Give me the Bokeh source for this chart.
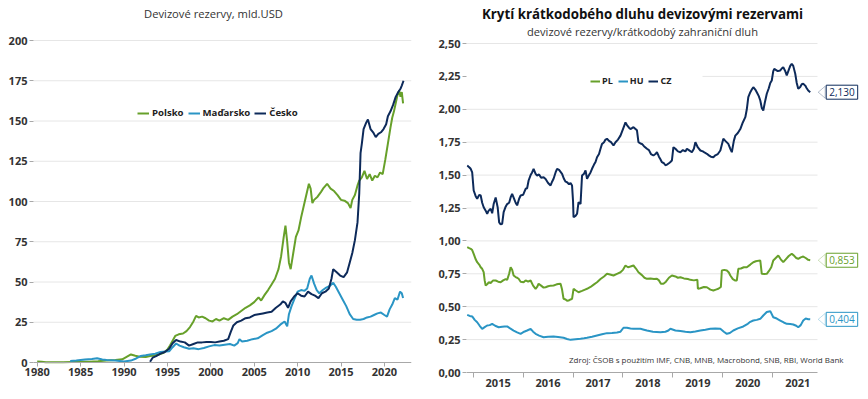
from bokeh.plotting import figure
from bokeh.layouts import row
from bokeh.models import (FixedTicker, CustomJSTickFormatter, Legend, LegendItem, Label,
                          PolyAnnotation)
from bokeh.embed import file_html
from bokeh.resources import INLINE

# ---------------- data: left chart (FX reserves, bn USD) ----------------
left_title = "Devizové rezervy, mld.USD"
left_xticks = [1980, 1985, 1990, 1995, 2000, 2005, 2010, 2015, 2020]
left_yticks = [0, 25, 50, 75, 100, 125, 150, 175, 200]

pl_years = [1980.0, 1980.5, 1981.0, 1982.0, 1983.0, 1984.0, 1985.0, 1986.0, 1987.0, 1988.0, 1989.0, 1989.8,
            1990.3, 1990.8, 1991.3, 1991.8, 1992.5, 1993.0, 1993.5, 1994.0, 1994.5, 1995.0, 1995.3, 1995.6,
            1995.9, 1996.3, 1996.8, 1997.2, 1997.6, 1998.0, 1998.3, 1998.6, 1999.0, 1999.4, 1999.8, 2000.2,
            2000.6, 2001.0, 2001.5, 2002.0, 2002.5, 2003.0, 2003.5, 2004.0, 2004.5, 2005.0, 2005.5, 2005.8,
            2006.2, 2006.6, 2007.0, 2007.4, 2007.8, 2008.1, 2008.4, 2008.6, 2008.8, 2009.0, 2009.2, 2009.5,
            2009.8, 2010.1, 2010.4, 2010.7, 2011.0, 2011.3, 2011.5, 2011.7, 2011.9, 2012.3, 2012.7, 2013.0,
            2013.4, 2013.8, 2014.2, 2014.6, 2015.0, 2015.4, 2015.8, 2016.1, 2016.3, 2016.6, 2016.9, 2017.1,
            2017.4, 2017.7, 2018.0, 2018.3, 2018.6, 2018.9, 2019.2, 2019.5, 2019.8, 2020.1, 2020.4, 2020.7,
            2020.9, 2021.1, 2021.3, 2021.5, 2021.7, 2021.85, 2022.0, 2022.15]
pl_vals = [0.7, 0.5, 0.1, 0.1, 0.2, 0.3, 0.4, 0.5, 0.8, 1.2, 1.6, 2.0,
           3.5, 5.0, 4.2, 3.6, 3.4, 4.0, 4.3, 5.0, 5.8, 8.0, 10.5, 13.5,
           16.5, 17.5, 18.0, 19.5, 22.0, 25.5, 29.0, 28.0, 28.5, 27.5, 26.0, 25.5,
           27.0, 26.0, 27.5, 26.5, 28.5, 30.0, 32.0, 34.0, 35.5, 37.5, 40.5, 38.5,
           42.0, 45.0, 48.5, 52.0, 58.0, 66.0, 78.0, 85.0, 75.0, 62.0, 58.0, 68.0,
           78.0, 82.0, 90.0, 97.0, 104.0, 111.0, 108.0, 99.0, 101.0, 103.0, 106.0, 108.5,
           111.0, 108.0, 106.5, 104.0, 101.0, 100.5, 99.0, 96.0, 101.0, 104.0, 110.0, 113.0,
           115.0, 119.0, 114.0, 117.0, 113.0, 116.0, 115.0, 118.0, 117.0, 126.0, 136.0, 146.0,
           152.0, 156.0, 161.0, 166.0, 169.0, 165.0, 168.0, 161.0]

hu_years = [1983.8, 1984.5, 1985.5, 1986.3, 1986.9, 1987.5, 1988.0, 1989.0, 1990.0, 1990.8, 1991.4, 1991.9,
            1992.5, 1993.0, 1993.6, 1994.2, 1994.8, 1995.2, 1995.6, 1996.0, 1996.4, 1996.9, 1997.5, 1998.0,
            1998.6, 1999.2, 1999.8, 2000.4, 2001.0, 2001.6, 2002.2, 2002.7, 2003.1, 2003.3, 2003.6, 2004.2,
            2004.8, 2005.4, 2006.0, 2006.5, 2007.0, 2007.5, 2008.0, 2008.5, 2008.8, 2009.0, 2009.3, 2009.6,
            2010.0, 2010.4, 2010.8, 2011.1, 2011.4, 2011.6, 2011.9, 2012.2, 2012.5, 2012.9, 2013.3, 2013.7,
            2014.1, 2014.4, 2014.8, 2015.2, 2015.6, 2016.0, 2016.4, 2016.8, 2017.2, 2017.6, 2018.0, 2018.4,
            2018.8, 2019.2, 2019.6, 2020.0, 2020.3, 2020.6, 2020.9, 2021.2, 2021.5, 2021.8, 2022.0, 2022.15]
hu_vals = [1.0, 1.3, 1.8, 2.2, 2.6, 1.9, 1.5, 1.2, 0.6, 1.2, 2.5, 4.0,
           4.5, 5.0, 5.5, 6.5, 6.8, 7.0, 9.5, 11.8, 10.5, 9.5, 8.5, 8.8,
           8.3, 9.0, 10.0, 10.8, 10.5, 11.0, 11.5, 10.5, 12.0, 14.5, 13.0, 13.5,
           14.5, 15.0, 17.0, 18.5, 19.5, 21.0, 23.5, 25.5, 22.5, 30.0, 35.0, 39.0,
           44.0, 45.0, 44.5, 46.0, 52.0, 54.0, 49.0, 45.0, 43.0, 45.0, 46.5, 47.5,
           49.5, 47.0, 43.0, 39.0, 35.0, 30.0, 27.0, 26.5, 26.5, 27.0, 28.0, 28.5,
           29.5, 30.5, 31.0, 29.5, 28.5, 33.0, 36.0, 40.0, 39.0, 44.0, 43.0, 40.0]

cz_years = [1993.0, 1993.3, 1993.7, 1994.2, 1994.7, 1995.2, 1995.6, 1996.0, 1996.5, 1997.0, 1997.5, 1998.0,
            1998.5, 1999.0, 1999.5, 2000.0, 2000.5, 2001.0, 2001.5, 2002.0, 2002.3, 2002.6, 2003.0, 2003.5,
            2004.0, 2004.5, 2005.0, 2005.5, 2006.0, 2006.5, 2007.0, 2007.5, 2008.0, 2008.3, 2008.6, 2008.9,
            2009.2, 2009.6, 2010.0, 2010.4, 2010.8, 2011.2, 2011.6, 2012.0, 2012.4, 2012.8, 2013.2, 2013.6,
            2013.9, 2014.1, 2014.5, 2014.9, 2015.3, 2015.7, 2016.0, 2016.3, 2016.6, 2016.9, 2017.1, 2017.25,
            2017.4, 2017.6, 2017.9, 2018.1, 2018.4, 2018.7, 2019.0, 2019.3, 2019.6, 2019.9, 2020.2, 2020.4,
            2020.7, 2021.0, 2021.3, 2021.6, 2021.85, 2022.0, 2022.2]
cz_vals = [0.5, 3.0, 4.0, 5.5, 6.5, 8.5, 12.0, 14.0, 13.0, 12.5, 10.5, 11.5,
           12.5, 12.5, 12.8, 12.8, 12.5, 13.0, 13.5, 14.5, 19.0, 23.0, 25.0, 26.0,
           27.5, 28.0, 29.5, 30.0, 30.5, 31.0, 31.5, 34.0, 36.0, 38.0, 37.0, 34.0,
           38.0, 41.0, 43.0, 41.5, 41.0, 44.0, 42.5, 41.5, 40.0, 43.0, 44.0, 46.0,
           52.0, 58.0, 56.0, 54.0, 53.0, 56.0, 62.0, 68.0, 76.0, 87.0, 105.0, 130.0,
           136.0, 145.0, 149.0, 151.0, 145.0, 143.0, 140.0, 142.0, 143.0, 145.0, 148.0, 153.0,
           156.0, 160.0, 165.0, 168.0, 170.0, 172.0, 175.0]

# ---------------- data: right chart (reserves / short-term debt) ----------------
right_title = "Krytí krátkodobého dluhu devizovými rezervami"
right_subtitle = "devizové rezervy/krátkodobý zahraniční dluh"
right_source = "Zdroj: ČSOB s použitím IMF, CNB, MNB, Macrobond, SNB, RBI, World Bank"
right_year_labels = [2015, 2016, 2017, 2018, 2019, 2020, 2021]
right_yticks = [0.0, 0.25, 0.5, 0.75, 1.0, 1.25, 1.5, 1.75, 2.0, 2.25, 2.5]

czr_years = [2014.88, 2014.92, 2014.95, 2014.98, 2015.01, 2015.05, 2015.08, 2015.12, 2015.15, 2015.18, 2015.21,
             2015.25, 2015.28, 2015.31, 2015.35, 2015.38, 2015.41, 2015.45, 2015.49, 2015.52, 2015.55, 2015.58,
             2015.61, 2015.65, 2015.68, 2015.72, 2015.75, 2015.78, 2015.82, 2015.85, 2015.88, 2015.92, 2015.95,
             2016.00, 2016.05, 2016.08, 2016.11, 2016.15, 2016.18, 2016.21, 2016.25, 2016.28, 2016.32, 2016.36,
             2016.41, 2016.45, 2016.50, 2016.55, 2016.58, 2016.61, 2016.65, 2016.68, 2016.72, 2016.75, 2016.78,
             2016.82, 2016.85, 2016.88, 2016.92, 2016.95, 2016.98, 2017.00, 2017.01, 2017.05, 2017.08, 2017.11,
             2017.15, 2017.18, 2017.22, 2017.25, 2017.28, 2017.32, 2017.35, 2017.38, 2017.42, 2017.45, 2017.48,
             2017.52, 2017.55, 2017.58, 2017.62, 2017.65, 2017.68, 2017.72, 2017.76, 2017.81, 2017.85, 2017.90,
             2017.95, 2018.00, 2018.05, 2018.08, 2018.12, 2018.15, 2018.21, 2018.28, 2018.31, 2018.35, 2018.38,
             2018.42, 2018.48, 2018.52, 2018.56, 2018.61, 2018.65, 2018.68, 2018.72, 2018.75, 2018.78, 2018.82,
             2018.85, 2018.88, 2018.92, 2018.95, 2018.98, 2019.01, 2019.05, 2019.10, 2019.15, 2019.20, 2019.25,
             2019.28, 2019.32, 2019.38, 2019.42, 2019.45, 2019.50, 2019.55, 2019.60, 2019.64, 2019.68, 2019.72,
             2019.76, 2019.81, 2019.85, 2019.90, 2019.95, 2020.01, 2020.05, 2020.11, 2020.15, 2020.18, 2020.22,
             2020.25, 2020.30, 2020.35, 2020.40, 2020.45, 2020.48, 2020.51, 2020.55, 2020.58, 2020.61, 2020.65,
             2020.68, 2020.72, 2020.75, 2020.78, 2020.81, 2020.84, 2020.88, 2020.92, 2020.95, 2020.98, 2021.01,
             2021.03, 2021.06, 2021.10, 2021.15, 2021.18, 2021.21, 2021.25, 2021.28, 2021.32, 2021.35, 2021.38,
             2021.41, 2021.45, 2021.48, 2021.51, 2021.55, 2021.58, 2021.61, 2021.65, 2021.68, 2021.71, 2021.75]
czr_vals = [1.573, 1.560, 1.548, 1.520, 1.383, 1.340, 1.320, 1.350, 1.345, 1.290, 1.256,
            1.230, 1.206, 1.230, 1.244, 1.210, 1.280, 1.330, 1.256, 1.140, 1.125, 1.130,
            1.218, 1.260, 1.280, 1.290, 1.330, 1.358, 1.320, 1.290, 1.270, 1.320, 1.345,
            1.350, 1.396, 1.400, 1.459, 1.500, 1.520, 1.548, 1.510, 1.497, 1.505, 1.480,
            1.484, 1.470, 1.440, 1.421, 1.450, 1.472, 1.520, 1.548, 1.540, 1.525, 1.510,
            1.470, 1.450, 1.446, 1.430, 1.440, 1.421, 1.300, 1.180, 1.190, 1.206, 1.294,
            1.280, 1.497, 1.510, 1.535, 1.472, 1.500, 1.520, 1.548, 1.580, 1.600, 1.636,
            1.660, 1.700, 1.737, 1.750, 1.770, 1.776, 1.760, 1.750, 1.725, 1.750, 1.770,
            1.800, 1.850, 1.900, 1.880, 1.860, 1.850, 1.864, 1.840, 1.750, 1.740, 1.737,
            1.720, 1.700, 1.690, 1.660, 1.649, 1.660, 1.674, 1.640, 1.620, 1.598, 1.590,
            1.575, 1.580, 1.590, 1.600, 1.611, 1.712, 1.700, 1.680, 1.674, 1.690, 1.680,
            1.700, 1.690, 1.674, 1.700, 1.750, 1.710, 1.687, 1.680, 1.670, 1.662, 1.650,
            1.640, 1.636, 1.650, 1.660, 1.687, 1.776, 1.760, 1.737, 1.700, 1.674, 1.760,
            1.800, 1.820, 1.850, 1.900, 1.940, 2.000, 2.092, 2.130, 2.150, 2.168, 2.150,
            2.130, 2.100, 2.067, 2.010, 1.990, 2.050, 2.118, 2.160, 2.200, 2.219, 2.290,
            2.307, 2.300, 2.290, 2.295, 2.310, 2.320, 2.290, 2.257, 2.300, 2.330, 2.346,
            2.330, 2.270, 2.200, 2.156, 2.170, 2.190, 2.194, 2.180, 2.160, 2.143, 2.130]

plr_years = [2014.88, 2014.92, 2014.95, 2014.98, 2015.01, 2015.05, 2015.08, 2015.12, 2015.15, 2015.18, 2015.21,
             2015.23, 2015.25, 2015.28, 2015.31, 2015.35, 2015.40, 2015.45, 2015.50, 2015.55, 2015.60, 2015.65,
             2015.68, 2015.72, 2015.75, 2015.78, 2015.81, 2015.85, 2015.88, 2015.91, 2015.95, 2016.01, 2016.05,
             2016.10, 2016.15, 2016.20, 2016.25, 2016.28, 2016.31, 2016.36, 2016.41, 2016.45, 2016.50, 2016.55,
             2016.61, 2016.66, 2016.70, 2016.75, 2016.78, 2016.81, 2016.85, 2016.88, 2016.91, 2016.95, 2016.98,
             2017.01, 2017.05, 2017.11, 2017.18, 2017.24, 2017.28, 2017.35, 2017.42, 2017.48, 2017.55, 2017.62,
             2017.68, 2017.74, 2017.81, 2017.88, 2017.95, 2018.00, 2018.05, 2018.10, 2018.15, 2018.21, 2018.26,
             2018.31, 2018.38, 2018.43, 2018.48, 2018.55, 2018.62, 2018.68, 2018.72, 2018.76, 2018.81, 2018.86,
             2018.92, 2018.98, 2019.05, 2019.10, 2019.15, 2019.22, 2019.30, 2019.35, 2019.42, 2019.49, 2019.50,
             2019.55, 2019.62, 2019.68, 2019.75, 2019.81, 2019.86, 2019.91, 2019.96, 2019.98, 2020.03, 2020.08,
             2020.12, 2020.15, 2020.20, 2020.25, 2020.28, 2020.31, 2020.36, 2020.42, 2020.48, 2020.55, 2020.61,
             2020.66, 2020.72, 2020.75, 2020.78, 2020.83, 2020.88, 2020.92, 2020.97, 2021.01, 2021.06, 2021.11,
             2021.16, 2021.21, 2021.26, 2021.32, 2021.38, 2021.42, 2021.47, 2021.51, 2021.56, 2021.61, 2021.66,
             2021.71, 2021.75]
plr_vals = [0.952, 0.945, 0.940, 0.930, 0.902, 0.860, 0.838, 0.820, 0.800, 0.788, 0.762,
            0.700, 0.661, 0.670, 0.686, 0.680, 0.700, 0.699, 0.690, 0.686, 0.700, 0.710,
            0.704, 0.750, 0.800, 0.780, 0.737, 0.725, 0.720, 0.712, 0.690, 0.686, 0.700,
            0.690, 0.699, 0.660, 0.636, 0.650, 0.674, 0.660, 0.645, 0.648, 0.655, 0.660,
            0.661, 0.668, 0.672, 0.674, 0.630, 0.560, 0.555, 0.545, 0.547, 0.555, 0.560,
            0.636, 0.625, 0.610, 0.620, 0.630, 0.636, 0.650, 0.670, 0.686, 0.710, 0.730,
            0.750, 0.745, 0.737, 0.750, 0.762, 0.780, 0.813, 0.800, 0.805, 0.813, 0.790,
            0.762, 0.740, 0.720, 0.712, 0.715, 0.710, 0.712, 0.700, 0.675, 0.674, 0.690,
            0.720, 0.737, 0.730, 0.720, 0.724, 0.715, 0.710, 0.704, 0.700, 0.704, 0.636,
            0.640, 0.650, 0.648, 0.630, 0.623, 0.630, 0.636, 0.650, 0.775, 0.780, 0.775,
            0.760, 0.737, 0.710, 0.699, 0.700, 0.788, 0.790, 0.800, 0.800, 0.820, 0.838,
            0.845, 0.850, 0.851, 0.750, 0.748, 0.750, 0.770, 0.800, 0.851, 0.870, 0.889,
            0.860, 0.838, 0.860, 0.885, 0.902, 0.890, 0.870, 0.864, 0.875, 0.881, 0.870,
            0.856, 0.853]

hur_years = [2014.88, 2014.93, 2014.98, 2015.03, 2015.08, 2015.13, 2015.18, 2015.23, 2015.28, 2015.33, 2015.38,
             2015.44, 2015.51, 2015.58, 2015.63, 2015.68, 2015.74, 2015.81, 2015.88, 2015.95, 2016.02, 2016.08,
             2016.15, 2016.20, 2016.25, 2016.32, 2016.41, 2016.50, 2016.61, 2016.70, 2016.81, 2016.88, 2016.95,
             2017.05, 2017.15, 2017.22, 2017.28, 2017.38, 2017.48, 2017.58, 2017.68, 2017.78, 2017.88, 2017.95,
             2018.01, 2018.08, 2018.15, 2018.21, 2018.35, 2018.42, 2018.48, 2018.60, 2018.75, 2018.85, 2018.91,
             2018.95, 2019.05, 2019.15, 2019.25, 2019.35, 2019.45, 2019.55, 2019.65, 2019.75, 2019.85, 2019.95,
             2020.02, 2020.08, 2020.14, 2020.21, 2020.30, 2020.41, 2020.50, 2020.55, 2020.61, 2020.68, 2020.75,
             2020.81, 2020.88, 2020.95, 2021.01, 2021.08, 2021.15, 2021.22, 2021.28, 2021.35, 2021.41, 2021.47,
             2021.51, 2021.56, 2021.61, 2021.66, 2021.71, 2021.75]
hur_vals = [0.438, 0.430, 0.426, 0.400, 0.382, 0.355, 0.332, 0.345, 0.357, 0.360, 0.370,
            0.355, 0.344, 0.348, 0.350, 0.350, 0.335, 0.319, 0.305, 0.294, 0.310, 0.319,
            0.332, 0.310, 0.294, 0.280, 0.268, 0.272, 0.274, 0.270, 0.264, 0.255, 0.248,
            0.252, 0.256, 0.260, 0.264, 0.272, 0.281, 0.290, 0.299, 0.300, 0.304, 0.310,
            0.340, 0.340, 0.335, 0.332, 0.332, 0.325, 0.319, 0.310, 0.306, 0.310, 0.319,
            0.332, 0.319, 0.315, 0.310, 0.306, 0.312, 0.319, 0.325, 0.332, 0.335, 0.332,
            0.310, 0.294, 0.300, 0.319, 0.335, 0.350, 0.370, 0.385, 0.395, 0.400, 0.408,
            0.433, 0.460, 0.466, 0.420, 0.410, 0.395, 0.380, 0.370, 0.368, 0.365, 0.355,
            0.344, 0.360, 0.395, 0.410, 0.405, 0.404]

# ---------------- styling ----------------
FONT = "Open Sans"
GREEN = "#67a02a"
LBLUE = "#2a95c5"
NAVY = "#0d2a5a"
GRID = "#e6e6e6"
TICKC = "#a8a8a8"
LABC = "#333333"
FIG_H = 399


def style_axes(p):
    p.outline_line_color = None
    p.xgrid.grid_line_color = None
    p.ygrid.grid_line_color = None
    for ax in p.yaxis:
        ax.axis_label = None
        ax.axis_line_color = None
        ax.major_tick_in = 0
        ax.major_tick_out = 4
        ax.major_tick_line_color = TICKC
        ax.minor_tick_line_color = None
        ax.major_label_standoff = 2
        ax.major_label_text_font = FONT
        ax.major_label_text_font_style = "bold"
        ax.major_label_text_font_size = "11px"
        ax.major_label_text_color = LABC
    for ax in p.xaxis:
        ax.axis_label = None
        ax.axis_line_color = TICKC
        ax.major_tick_in = 0
        ax.major_tick_line_color = TICKC
        ax.major_label_text_font = FONT
        ax.major_label_text_font_style = "bold"
        ax.major_label_text_font_size = "11px"
        ax.major_label_text_color = LABC
        ax.fixed_location = 0


# ---------------- left chart ----------------
# page coords: frame x 0..411 (axis from x=33), y 0..399 ; value 0 at y=362, 200 at y=40
L_PPU = 322 / 200.0          # px per unit (y)
L_PPY = 8.68                 # px per year (x)
ly_end = 200 + 40 / L_PPU
ly_start = -(FIG_H - 362) / L_PPU
lx_frame0 = 1980 - 36.7 / L_PPY
lx0, lx1 = 1979.57, 2023.12
left = figure(width=430, height=FIG_H, x_range=(lx_frame0, lx1), y_range=(ly_start, ly_end),
              output_backend="svg", toolbar_location=None, title=None,
              min_border_left=0, min_border_right=19, min_border_top=0, min_border_bottom=0)
style_axes(left)
left.yaxis.fixed_location = lx0
left.xaxis.ticker = FixedTicker(ticks=left_xticks)
left.yaxis.ticker = FixedTicker(ticks=left_yticks)
left.xaxis.bounds = (lx0, lx1)
left.xaxis.major_tick_out = 4
left.xaxis.major_label_standoff = 1

lgrid = [t for t in left_yticks if t > 0]
left.segment(x0=[lx0] * len(lgrid), x1=[lx1] * len(lgrid), y0=lgrid, y1=lgrid,
             line_color=GRID, line_width=1)

r_pl = left.line(pl_years, pl_vals, line_color=GREEN, line_width=2)
r_hu = left.line(hu_years, hu_vals, line_color=LBLUE, line_width=2)
r_cz = left.line(cz_years, cz_vals, line_color=NAVY, line_width=2)

left.add_layout(Label(x=1980 + (213 - 36.7) / L_PPY, y=ly_end - 13 / L_PPU, text=left_title,
                      text_align="center", text_baseline="middle", text_font=FONT,
                      text_font_size="11.2px", text_color=LABC))

leg_l = Legend(items=[LegendItem(label="Polsko", renderers=[r_pl]),
                      LegendItem(label="Maďarsko", renderers=[r_hu]),
                      LegendItem(label="Česko", renderers=[r_cz])],
               orientation="horizontal", location=(137, FIG_H - 119),
               padding=0, margin=0, spacing=4, label_standoff=3, label_width=0,
               glyph_width=12, glyph_height=12, label_height=12,
               label_text_font=FONT, label_text_font_style="bold", label_text_font_size="9.6px",
               label_text_color="#222222", border_line_color=None, background_fill_alpha=0)
left.add_layout(leg_l, "center")

# ---------------- right chart ----------------
# page coords: figure x 430..868 ; frame x 466..868, y 0..399 ; axis part ends at x=817
R_PPY = 49.93
R_PPU = 329 / 2.5
x0 = 2014.866
x1 = x0 + (817 - 466) / R_PPY        # end of the drawn axis / grid
xr_end = x0 + (868 - 466) / R_PPY    # room for end-value callouts
ry_end = 2.5 + 43 / R_PPU
ry_start = -(FIG_H - 372) / R_PPU
right = figure(width=438, height=FIG_H, x_range=(x0, xr_end), y_range=(ry_start, ry_end),
               output_backend="svg", toolbar_location=None, title=None,
               min_border_left=36, min_border_right=0, min_border_top=0, min_border_bottom=0)
style_axes(right)
right.yaxis.ticker = FixedTicker(ticks=right_yticks)
right.yaxis.formatter = CustomJSTickFormatter(code="return tick.toFixed(2).replace('.', ',');")
mid_ticks = [y + 0.5 for y in right_year_labels]
right.xaxis.ticker = FixedTicker(ticks=mid_ticks, minor_ticks=right_year_labels)
right.xaxis.formatter = CustomJSTickFormatter(code="return Math.floor(tick).toString();")
right.xaxis.bounds = (x0, x1)
right.xaxis.major_tick_line_color = None
right.xaxis.major_tick_out = 0
right.xaxis.minor_tick_in = 0
right.xaxis.minor_tick_out = 5
right.xaxis.minor_tick_line_color = TICKC
right.xaxis.major_label_standoff = 1

# horizontal grid lines limited to the axis extent (the 2,25 line is hidden behind the legend box)
legend_box_end = x0 + (702 - 466) / R_PPY
grid_ticks = [t for t in right_yticks if t > 0]
grid_x0 = [legend_box_end if abs(t - 2.25) < 1e-9 else x0 for t in grid_ticks]
right.segment(x0=grid_x0, x1=[x1] * len(grid_ticks), y0=grid_ticks, y1=grid_ticks,
              line_color=GRID, line_width=1)

rr_pl = right.line(plr_years, plr_vals, line_color=GREEN, line_width=2)
rr_hu = right.line(hur_years, hur_vals, line_color=LBLUE, line_width=2)
rr_cz = right.line(czr_years, czr_vals, line_color=NAVY, line_width=2)

title_x = x0 + (642 - 466) / R_PPY
right.add_layout(Label(x=title_x, y=ry_end - 13 / R_PPU, text=right_title, text_align="center",
                       text_baseline="middle", text_font=FONT, text_font_style="bold",
                       text_font_size="13.3px", text_color="#111111"))
right.add_layout(Label(x=title_x, y=ry_end - 31 / R_PPU, text=right_subtitle, text_align="center",
                       text_baseline="middle", text_font=FONT, text_font_size="11.1px", text_color=LABC))

leg_r = Legend(items=[LegendItem(label="PL", renderers=[rr_pl]),
                      LegendItem(label="HU", renderers=[rr_hu]),
                      LegendItem(label="CZ", renderers=[rr_cz])],
               orientation="horizontal", location=(124, FIG_H - 87),
               padding=0, margin=0, spacing=5, label_standoff=2, label_width=0,
               glyph_width=10, glyph_height=12, label_height=12,
               label_text_font=FONT, label_text_font_style="bold", label_text_font_size="9px",
               label_text_color="#222222", border_line_color=None, background_fill_alpha=0)
right.add_layout(leg_r, "center")

# end-value callouts
for yrs, vals, col in [(czr_years, czr_vals, NAVY), (plr_years, plr_vals, GREEN), (hur_years, hur_vals, LBLUE)]:
    xe, ve = yrs[-1], vals[-1]
    txt = f"{ve:.3f}".replace(".", ",")
    tip = xe + 8 / R_PPY
    base = xe + 15 / R_PPY
    dy = 6 / R_PPU
    right.add_layout(Label(x=xe, y=ve, x_offset=16, text=txt, text_baseline="middle", text_align="left",
                           text_font=FONT, text_font_size="10px", text_color=col,
                           border_line_color=col, border_line_width=1,
                           background_fill_color="white", background_fill_alpha=1, padding=3))
    right.add_layout(PolyAnnotation(xs=[base, tip, base], ys=[ve + dy, ve, ve - dy],
                                    fill_color="white", fill_alpha=1, line_color=col, line_width=1))

right.add_layout(Label(x=x0 + (843 - 466) / R_PPY, y=13 / R_PPU, text=right_source, text_align="right",
                       text_baseline="middle", text_font=FONT, text_font_size="8px", text_color=LABC))

layout = row(left, right)
open("out.html", "w").write(file_html(layout, INLINE))
